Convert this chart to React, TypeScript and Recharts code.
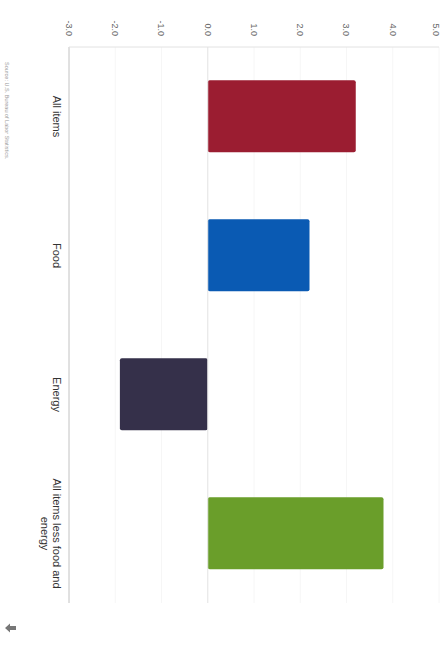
import { BarChart, Bar, XAxis, YAxis, CartesianGrid, ReferenceLine, Cell } from "recharts"

// 12-month percent change by item group
const CATEGORIES = ["All items", "Food", "Energy", "All items less food and energy"]
const CHANGE = [3.2, 2.2, -1.9, 3.8]
const TICKS = [-3, -2, -1, 0, 1, 2, 3, 4, 5]

const COLORS = ["#9b1d31", "#0a5ab3", "#35304a", "#6a9e2a"]
const FONT = "'Liberation Sans', Arial, Helvetica, sans-serif"

const data = CATEGORIES.map((name, i) => ({ name, value: CHANGE[i] }))

// simple word wrap by character count
function wrap(label: string, maxChars: number) {
  const lines: string[] = []
  let line = ""
  for (const word of label.split(" ")) {
    const next = line ? line + " " + word : word
    if (next.length > maxChars && line) {
      lines.push(line)
      line = word
    } else {
      line = next
    }
  }
  if (line) lines.push(line)
  return lines
}

function CategoryTick({ x, y, payload }: { x: number; y: number; payload: { value: string } }) {
  const lines = wrap(payload.value, 24)
  return (
    <text x={x} y={y} textAnchor="middle" fill="#333333" style={{ fontSize: 11, fontFamily: FONT }}>
      {lines.map((l, i) => (
        <tspan key={i} x={x} dy={i === 0 ? 8 : 12}>
          {l}
        </tspan>
      ))}
    </text>
  )
}

export default function App() {
  return (
    <div
      style={{
        position: "fixed",
        left: 0,
        top: 0,
        width: 441,
        height: 650,
        background: "white",
        overflow: "hidden",
        fontFamily: FONT,
      }}
    >
      {/* chart is laid out landscape, then turned a quarter clockwise */}
      <div
        style={{
          position: "absolute",
          left: 0,
          top: 0,
          width: 650,
          height: 441,
          transformOrigin: "0 0",
          transform: "translate(441px, 0) rotate(90deg)",
        }}
      >
        <BarChart
          width={650}
          height={441}
          data={data}
          margin={{ top: 2, right: 47, bottom: 0, left: 0 }}
          barCategoryGap="24%"
        >
          <CartesianGrid vertical={false} stroke="#f6f6f6" />
          <XAxis
            dataKey="name"
            height={69}
            interval={0}
            tickSize={0}
            tickMargin={8}
            tickLine={false}
            axisLine={{ stroke: "#c6c6c6" }}
            tick={CategoryTick}
          />
          <YAxis
            width={47}
            domain={[-3, 5]}
            ticks={TICKS}
            allowDataOverflow
            tickSize={0}
            tickMargin={11}
            tickLine={false}
            axisLine={{ stroke: "#e2e2e2" }}
            tickFormatter={(v: number) => v.toFixed(1)}
            tick={{ fontSize: 9, fill: "#666666", fontFamily: FONT }}
          />
          <ReferenceLine y={0} stroke="#e6e6e6" />
          <Bar dataKey="value" radius={2} isAnimationActive={false}>
            {data.map((d, i) => (
              <Cell key={d.name} fill={COLORS[i]} />
            ))}
          </Bar>
        </BarChart>
        <div
          style={{
            position: "absolute",
            left: 62,
            top: 431,
            fontSize: 5.5,
            color: "#9a9a9a",
            whiteSpace: "nowrap",
          }}
        >
          Source: U.S. Bureau of Labor Statistics.
        </div>
      </div>
      <svg style={{ position: "absolute", left: 4, top: 622 }} width={14} height={12} viewBox="0 0 14 12">
        <path d="M1 6 L6 1.5 L6 4 L12 4 L12 8 L6 8 L6 10.5 Z" fill="#777777" />
      </svg>
    </div>
  )
}
